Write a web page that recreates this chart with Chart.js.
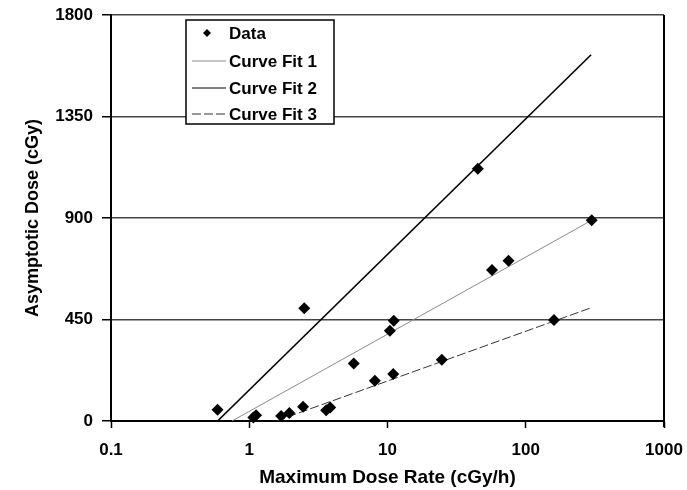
<!DOCTYPE html>
<html>
<head>
<meta charset="utf-8">
<script src="https://cdn.jsdelivr.net/npm/chart.js@4.4.0/dist/chart.umd.min.js"></script>
<style>
  html, body { margin: 0; padding: 0; background: #fff; }
  #wrap { width: 687px; height: 490px; }
</style>
</head>
<body>
<div id="wrap"><canvas id="chart" width="687" height="490"></canvas></div>
<script>
// Measured points
const doseRate = [0.59, 1.07, 1.12, 1.7, 1.95, 2.45, 2.5, 3.6, 3.85, 5.7, 8.1, 10.4, 11, 11.1, 24.7, 45, 57, 75, 160, 300];
const asymptoticDose = [50, 15, 25, 22, 35, 63, 500, 48, 60, 255, 178, 400, 208, 445, 272, 1118, 670, 710, 448, 890];

// Curve fit end points (straight on the log axis)
const fit1X = [0.75, 300];
const fit1Y = [0, 890];
const fit2X = [0.59, 297];
const fit2Y = [0, 1624];
const fit3X = [1.57, 297];
const fit3Y = [0, 502];

const xTicks = [0.1, 1, 10, 100, 1000];
const yTicks = [0, 450, 900, 1350, 1800];

const FONT = "'Liberation Sans', Arial, sans-serif";

const toPoints = (xs, ys) => xs.map((x, i) => ({ x: x, y: ys[i] }));

// legend box drawn inside the plot, like the original
const boxLegend = {
    id: 'boxLegend',
    afterDatasetsDraw(chart) {
        const ctx = chart.ctx;
        const left = 186, top = 20, w = 148, h = 104;
        ctx.save();
        ctx.fillStyle = '#fff';
        ctx.fillRect(left, top, w, h);
        ctx.strokeStyle = '#000';
        ctx.lineWidth = 1.5;
        ctx.strokeRect(left, top, w, h);

        ctx.font = 'bold 17px ' + FONT;
        ctx.fillStyle = '#000';
        ctx.textBaseline = 'middle';
        const rows = [33, 61, 88, 114];
        chart.data.datasets.forEach((ds, i) => {
            const y = rows[i];
            if (ds.showLine === false) {
                ctx.beginPath();
                ctx.moveTo(207, y - 4);
                ctx.lineTo(211, y);
                ctx.lineTo(207, y + 4);
                ctx.lineTo(203, y);
                ctx.closePath();
                ctx.fill();
            } else {
                ctx.beginPath();
                ctx.strokeStyle = ds.borderColor;
                ctx.lineWidth = 1;
                ctx.setLineDash(ds.borderDash || []);
                ctx.moveTo(192, y);
                ctx.lineTo(226, y);
                ctx.stroke();
                ctx.setLineDash([]);
            }
            ctx.fillText(ds.label, 229, y + 1);
        });
        ctx.restore();
    },
    beforeDatasetsDraw(chart) {
        // right frame line
        const { ctx, chartArea } = chart;
        ctx.save();
        ctx.strokeStyle = '#000';
        ctx.lineWidth = 2;
        ctx.beginPath();
        ctx.moveTo(chartArea.right, chartArea.top);
        ctx.lineTo(chartArea.right, chartArea.bottom + 6);
        ctx.stroke();
        ctx.restore();
    }
};

new Chart(document.getElementById('chart'), {
    type: 'scatter',
    data: {
        datasets: [
            {
                label: 'Data',
                data: toPoints(doseRate, asymptoticDose),
                showLine: false,
                pointStyle: 'rectRot',
                pointRadius: 6,
                backgroundColor: '#000',
                borderColor: '#000',
                borderWidth: 0,
                clip: false,
                order: 0
            },
            {
                label: 'Curve Fit 1',
                data: toPoints(fit1X, fit1Y),
                showLine: true,
                borderColor: '#8a8a8a',
                borderWidth: 1,
                pointRadius: 0,
                order: 1
            },
            {
                label: 'Curve Fit 2',
                data: toPoints(fit2X, fit2Y),
                showLine: true,
                borderColor: '#000',
                borderWidth: 1.6,
                pointRadius: 0,
                order: 1
            },
            {
                label: 'Curve Fit 3',
                data: toPoints(fit3X, fit3Y),
                showLine: true,
                borderColor: '#333',
                borderWidth: 1,
                borderDash: [9, 3],
                pointRadius: 0,
                order: 1
            }
        ]
    },
    options: {
        responsive: false,
        animation: false,
        layout: { padding: { left: 0, top: 15, right: 23, bottom: 0 } },
        plugins: {
            legend: { display: false },
            tooltip: { enabled: false }
        },
        scales: {
            x: {
                type: 'logarithmic',
                min: 0.1,
                max: 1000,
                afterBuildTicks: scale => { scale.ticks = xTicks.map(v => ({ value: v })); },
                afterFit: scale => {
                    scale.height = 69;
                    scale.paddingLeft = 0;
                    scale.paddingRight = 0;
                },
                ticks: {
                    callback: v => String(v),
                    color: '#000',
                    font: { family: FONT, size: 17, weight: 'bold' },
                    padding: 12,
                    maxRotation: 0,
                    autoSkip: false
                },
                grid: {
                    drawOnChartArea: false,
                    tickLength: 7,
                    tickColor: '#000',
                    tickWidth: 1.5
                },
                border: { color: '#000', width: 2 },
                title: {
                    display: true,
                    text: 'Maximum Dose Rate (cGy/h)',
                    color: '#000',
                    font: { family: FONT, size: 19, weight: 'bold' },
                    padding: { top: 0, bottom: 1 }
                }
            },
            y: {
                min: 0,
                max: 1800,
                afterBuildTicks: scale => { scale.ticks = yTicks.map(v => ({ value: v })); },
                afterFit: scale => {
                    scale.width = 111;
                    scale.paddingTop = 0;
                    scale.paddingBottom = 0;
                },
                ticks: {
                    callback: v => String(v),
                    color: '#000',
                    font: { family: FONT, size: 17, weight: 'bold' },
                    padding: 9
                },
                grid: {
                    color: '#444',
                    lineWidth: 1.5,
                    tickLength: 9,
                    tickColor: '#000',
                    tickWidth: 1.5
                },
                border: { color: '#000', width: 2 },
                title: {
                    display: true,
                    text: 'Asymptotic Dose (cGy)',
                    color: '#000',
                    font: { family: FONT, size: 18, weight: 'bold' },
                    padding: { top: 22, bottom: 0 }
                }
            }
        }
    },
    plugins: [boxLegend]
});
</script>
</body>
</html>
